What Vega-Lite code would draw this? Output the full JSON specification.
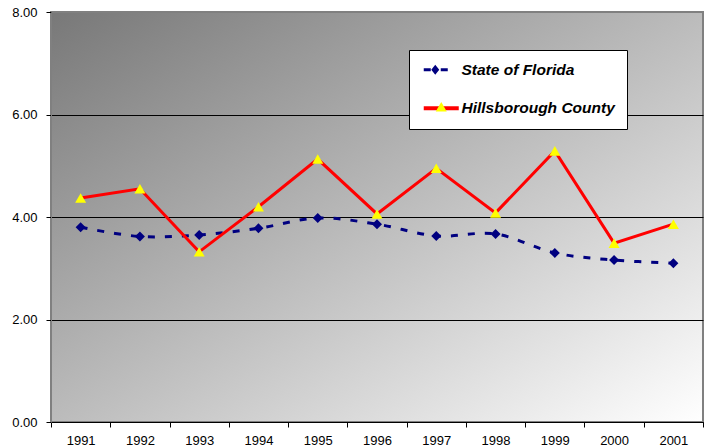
{
  "$schema": "https://vega.github.io/schema/vega-lite/v6.json",
  "width": 652,
  "height": 410,
  "autosize": {"type": "none"},
  "padding": {"left": 51, "top": 12, "right": 2, "bottom": 24},
  "background": "white",
  "config": {
    "view": {
      "fill": {"gradient": "linear", "x1": 0, "y1": 0, "x2": 1, "y2": 1,
        "stops": [{"offset": 0, "color": "#787878"}, {"offset": 1, "color": "#ffffff"}]},
      "stroke": "#808080",
      "strokeWidth": 2
    },
    "font": "Liberation Sans",
    "axis": {"labelFont": "Liberation Sans", "labelFontSize": 13, "labelColor": "black", "title": null}
  },
  "data": {
    "values": [
      {"year": "1991", "series": "State of Florida", "value": 3.80},
      {"year": "1992", "series": "State of Florida", "value": 3.62},
      {"year": "1993", "series": "State of Florida", "value": 3.65},
      {"year": "1994", "series": "State of Florida", "value": 3.78},
      {"year": "1995", "series": "State of Florida", "value": 3.98},
      {"year": "1996", "series": "State of Florida", "value": 3.86},
      {"year": "1997", "series": "State of Florida", "value": 3.63},
      {"year": "1998", "series": "State of Florida", "value": 3.67},
      {"year": "1999", "series": "State of Florida", "value": 3.30},
      {"year": "2000", "series": "State of Florida", "value": 3.16},
      {"year": "2001", "series": "State of Florida", "value": 3.10},
      {"year": "1991", "series": "Hillsborough County", "value": 4.37},
      {"year": "1992", "series": "Hillsborough County", "value": 4.55},
      {"year": "1993", "series": "Hillsborough County", "value": 3.32},
      {"year": "1994", "series": "Hillsborough County", "value": 4.20},
      {"year": "1995", "series": "Hillsborough County", "value": 5.13},
      {"year": "1996", "series": "Hillsborough County", "value": 4.06},
      {"year": "1997", "series": "Hillsborough County", "value": 4.95},
      {"year": "1998", "series": "Hillsborough County", "value": 4.08},
      {"year": "1999", "series": "Hillsborough County", "value": 5.29},
      {"year": "2000", "series": "Hillsborough County", "value": 3.49},
      {"year": "2001", "series": "Hillsborough County", "value": 3.86}
    ]
  },
  "encoding": {
    "x": {
      "field": "year", "type": "ordinal",
      "scale": {"type": "band", "paddingInner": 0, "paddingOuter": 0},
      "axis": {"labelAngle": 0, "tickBand": "extent", "domainColor": "black", "domainWidth": 1, "tickColor": "black", "tickSize": 5, "labelPadding": 7, "grid": false}
    },
    "y": {
      "field": "value", "type": "quantitative",
      "scale": {"domain": [0, 8]},
      "axis": {
        "values": [0, 2, 4, 6, 8], "format": ".2f",
        "gridColor": {"condition": {"test": "datum.value == 8", "value": "#808080"}, "value": "black"},
        "gridWidth": 1,
        "domainColor": "#808080", "tickColor": "black", "tickSize": 5, "labelPadding": 9
      }
    }
  },
  "layer": [
    {
      "transform": [{"filter": "datum.series === 'State of Florida'"}],
      "mark": {"type": "line", "strokeDash": [7, 10], "strokeWidth": 3, "interpolate": "cardinal"},
      "encoding": {
        "stroke": {
          "field": "series", "type": "nominal",
          "scale": {"domain": ["State of Florida", "Hillsborough County"], "range": ["#000080", "#ff0000"]},
          "legend": {
            "orient": "none", "legendX": 358, "legendY": 38, "title": null,
            "fillColor": "white", "strokeColor": "black", "padding": 12,
            "symbolSize": 100, "labelOffset": 25, "rowPadding": 21.5,
            "labelFont": "Liberation Sans", "labelFontSize": 15.5, "labelFontWeight": "bold", "labelFontStyle": "italic", "labelColor": "black",
            "zindex": 0,
            "encode": {"symbols": {"update": {
              "shape": {"signal": "datum.value === 'State of Florida' ? 'M-1,-0.3H0.4V0.3H-1Z M1.3,-1L2.1,0L1.3,1L0.5,0Z M2.4,-0.3H3.8V0.3H2.4Z' : 'M-1,-0.4H6V0.4H-1Z'"},
              "fill": {"signal": "datum.value === 'State of Florida' ? '#000080' : '#ff0000'"},
              "stroke": {"value": "transparent"},
              "strokeWidth": {"value": 0},
              "strokeDash": {"value": []},
              "opacity": {"value": 1}
            }}}
          }
        }
      }
    },
    {
      "transform": [{"filter": "datum.series === 'State of Florida'"}],
      "mark": {"type": "point", "shape": "diamond", "filled": true, "size": 100, "opacity": 1},
      "encoding": {
        "fill": {
          "field": "series", "type": "nominal",
          "sort": ["State of Florida", "Hillsborough County"],
          "scale": {"range": ["#000080", "#ffff00"]},
          "legend": {
            "orient": "none", "legendX": 358, "legendY": 75, "title": null,
            "values": ["Hillsborough County"],
            "padding": 12, "symbolType": "triangle-up", "symbolSize": 121, "symbolOffset": 12.5,
            "symbolStrokeWidth": 0, "symbolOpacity": 1,
            "labelOffset": 25, "rowPadding": 21.5,
            "labelFont": "Liberation Sans", "labelFontSize": 15.5, "labelFontWeight": "bold", "labelFontStyle": "italic",
            "labelExpr": "''", "labelOpacity": 0, "zindex": 1
          }
        }
      }
    },
    {
      "transform": [{"filter": "datum.series === 'Hillsborough County'"}],
      "mark": {"type": "line", "strokeWidth": 3},
      "encoding": {
        "stroke": {
          "field": "series", "type": "nominal",
          "scale": {"domain": ["State of Florida", "Hillsborough County"], "range": ["#000080", "#ff0000"]},
          "legend": {
            "orient": "none", "legendX": 358, "legendY": 38, "title": null,
            "fillColor": "white", "strokeColor": "black", "padding": 12,
            "symbolSize": 100, "labelOffset": 25, "rowPadding": 21.5,
            "labelFont": "Liberation Sans", "labelFontSize": 15.5, "labelFontWeight": "bold", "labelFontStyle": "italic", "labelColor": "black",
            "zindex": 0,
            "encode": {"symbols": {"update": {
              "shape": {"signal": "datum.value === 'State of Florida' ? 'M-1,-0.3H0.4V0.3H-1Z M1.3,-1L2.1,0L1.3,1L0.5,0Z M2.4,-0.3H3.8V0.3H2.4Z' : 'M-1,-0.4H6V0.4H-1Z'"},
              "fill": {"signal": "datum.value === 'State of Florida' ? '#000080' : '#ff0000'"},
              "stroke": {"value": "transparent"},
              "strokeWidth": {"value": 0},
              "strokeDash": {"value": []},
              "opacity": {"value": 1}
            }}}
          }
        }
      }
    },
    {
      "transform": [{"filter": "datum.series === 'Hillsborough County'"}],
      "mark": {"type": "point", "shape": "triangle-up", "filled": true, "size": 121, "opacity": 1},
      "encoding": {
        "fill": {
          "field": "series", "type": "nominal",
          "sort": ["State of Florida", "Hillsborough County"],
          "scale": {"range": ["#000080", "#ffff00"]},
          "legend": {
            "orient": "none", "legendX": 358, "legendY": 75, "title": null,
            "values": ["Hillsborough County"],
            "padding": 12, "symbolType": "triangle-up", "symbolSize": 121, "symbolOffset": 12.5,
            "symbolStrokeWidth": 0, "symbolOpacity": 1,
            "labelOffset": 25, "rowPadding": 21.5,
            "labelFont": "Liberation Sans", "labelFontSize": 15.5, "labelFontWeight": "bold", "labelFontStyle": "italic",
            "labelExpr": "''", "labelOpacity": 0, "zindex": 1
          }
        }
      }
    }
  ]
}
